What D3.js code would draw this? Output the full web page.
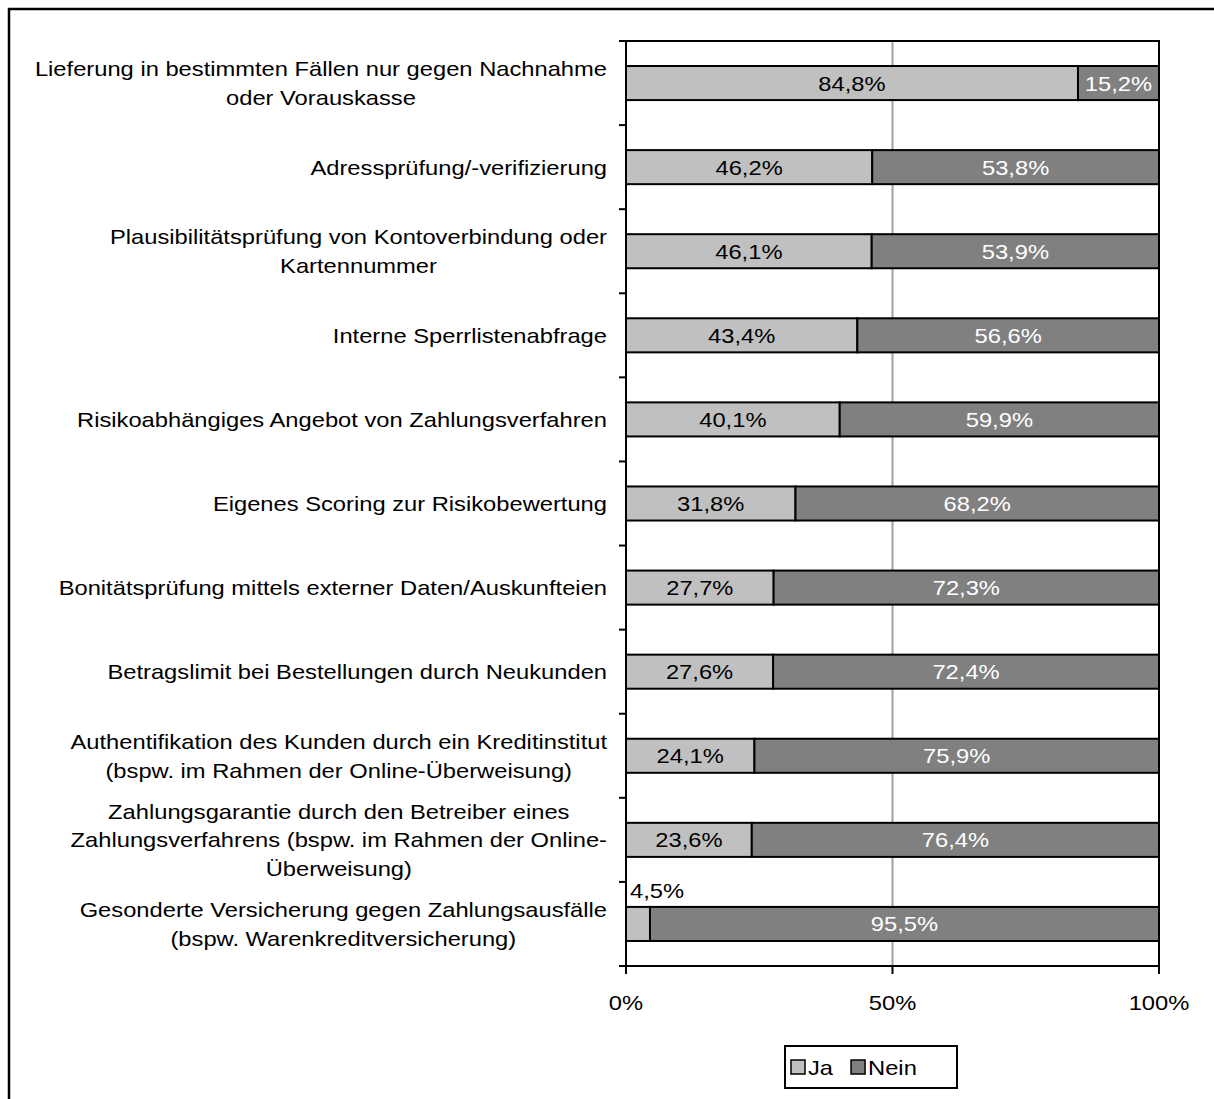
<!DOCTYPE html>
<html>
<head>
<meta charset="utf-8">
<script src="https://cdnjs.cloudflare.com/ajax/libs/d3/7.8.5/d3.min.js"></script>
<style>
    body { margin: 0; background: #fff; }
    text { font-family: "Liberation Sans", Arial, sans-serif; fill: #000; }
</style>
</head>
<body>
<svg id="chart" width="1214" height="1099"></svg>
<script>
// category labels, already broken into lines like the original
var categories = [
    ["Lieferung in bestimmten Fällen nur gegen Nachnahme", "oder Vorauskasse"],
    ["Adressprüfung/-verifizierung"],
    ["Plausibilitätsprüfung von Kontoverbindung oder", "Kartennummer"],
    ["Interne Sperrlistenabfrage"],
    ["Risikoabhängiges Angebot von Zahlungsverfahren"],
    ["Eigenes Scoring zur Risikobewertung"],
    ["Bonitätsprüfung mittels externer Daten/Auskunfteien"],
    ["Betragslimit bei Bestellungen durch Neukunden"],
    ["Authentifikation des Kunden durch ein Kreditinstitut", "(bspw. im Rahmen der Online-Überweisung)"],
    ["Zahlungsgarantie durch den Betreiber eines", "Zahlungsverfahrens (bspw. im Rahmen der Online-", "Überweisung)"],
    ["Gesonderte Versicherung gegen Zahlungsausfälle", "(bspw. Warenkreditversicherung)"]
];
var jaValues = [84.8, 46.2, 46.1, 43.4, 40.1, 31.8, 27.7, 27.6, 24.1, 23.6, 4.5];
var neinValues = [15.2, 53.8, 53.9, 56.6, 59.9, 68.2, 72.3, 72.4, 75.9, 76.4, 95.5];
var seriesNames = ["Ja", "Nein"];
var xTicks = [0, 50, 100];

var fontSize = 21;
var stretch = 1.13;   // the original text is a bit wide
var colors = { Ja: "#c0c0c0", Nein: "#808080" };
var labelColors = { Ja: "#000", Nein: "#fff" };

var plot = { left: 626, right: 1159, top: 41, bottom: 966 };

var svg = d3.select("#chart");

function fmt(v) {
    return v.toFixed(1).replace(".", ",") + "%";
}

// put a text that is stretched horizontally
function stretchedText(g, str, x, y, anchor, color) {
    return g.append("text")
        .attr("transform", "translate(" + x + "," + y + ") scale(" + stretch + ",1)")
        .attr("text-anchor", anchor)
        .style("font-size", fontSize + "px")
        .style("fill", color || "#000")
        .text(str);
}

// outer frame (only left and top are on the picture)
svg.append("rect")
    .attr("x", 9).attr("y", 9)
    .attr("width", 1400).attr("height", 1300)
    .attr("fill", "none")
    .attr("stroke", "#000")
    .attr("stroke-width", 2.5);

var x = d3.scaleLinear().domain([0, 100]).range([plot.left, plot.right]);

var idx = d3.range(categories.length);
var y = d3.scaleBand()
    .domain(idx)
    .range([plot.top, plot.bottom])
    .paddingInner(0.595)
    .paddingOuter(0.2975);

var step = y.step();

// 50% gridline
svg.append("line")
    .attr("x1", x(50)).attr("x2", x(50))
    .attr("y1", plot.top).attr("y2", plot.bottom)
    .attr("stroke", "#a0a0a0")
    .attr("stroke-width", 2);

// stacked data
var stacked = idx.map(function (i) {
    return [
        { key: "Ja", x0: 0, x1: jaValues[i], v: jaValues[i], i: i },
        { key: "Nein", x0: jaValues[i], x1: jaValues[i] + neinValues[i], v: neinValues[i], i: i }
    ];
});

var bars = svg.append("g");
stacked.forEach(function (row) {
    row.forEach(function (d) {
        bars.append("rect")
            .attr("x", x(d.x0))
            .attr("y", y(d.i))
            .attr("width", x(d.x1) - x(d.x0))
            .attr("height", y.bandwidth())
            .attr("fill", colors[d.key])
            .attr("stroke", "#000")
            .attr("stroke-width", 2);
    });
});

// plot frame
svg.append("rect")
    .attr("x", plot.left).attr("y", plot.top)
    .attr("width", plot.right - plot.left)
    .attr("height", plot.bottom - plot.top)
    .attr("fill", "none")
    .attr("stroke", "#000")
    .attr("stroke-width", 2);

// value labels
var vl = svg.append("g");
stacked.forEach(function (row) {
    row.forEach(function (d) {
        var w = x(d.x1) - x(d.x0);
        var cy = y(d.i) + y.bandwidth() / 2;
        if (w > 40) {
            stretchedText(vl, fmt(d.v), (x(d.x0) + x(d.x1)) / 2, cy + 7.5, "middle", labelColors[d.key]);
        } else {
            // too narrow, label sits above the bar
            stretchedText(vl, fmt(d.v), x(d.x0) + 4, y(d.i) - 9, "start", "#000");
        }
    });
});

// y axis ticks at band borders
var yTicks = d3.range(categories.length + 1).map(function (k) {
    return plot.top + k * step;
});
svg.append("g").selectAll("line")
    .data(yTicks)
    .enter().append("line")
    .attr("x1", plot.left - 7).attr("x2", plot.left)
    .attr("y1", function (d) { return d; })
    .attr("y2", function (d) { return d; })
    .attr("stroke", "#000")
    .attr("stroke-width", 2);

// x axis ticks and labels
var xa = svg.append("g");
xTicks.forEach(function (t) {
    xa.append("line")
        .attr("x1", x(t)).attr("x2", x(t))
        .attr("y1", plot.bottom).attr("y2", plot.bottom + 8)
        .attr("stroke", "#000")
        .attr("stroke-width", 2);
    stretchedText(xa, t + "%", x(t), 1010, "middle");
});

// category labels, block right aligned, lines centred
var cl = svg.append("g");
var lineH = 28.5;
var labelRight = 607;
categories.forEach(function (lines, i) {
    var cy = y(i) + y.bandwidth() / 2;
    var g = cl.append("g");
    var nodes = lines.map(function (s) {
        return stretchedText(g, s, 0, 0, "middle");
    });
    var maxW = d3.max(nodes, function (n) { return n.node().getComputedTextLength(); }) * stretch;
    var cx = labelRight - maxW / 2;
    var first = cy - (lines.length - 1) * lineH / 2 + 7.5;
    nodes.forEach(function (n, k) {
        n.attr("transform", "translate(" + cx + "," + (first + k * lineH) + ") scale(" + stretch + ",1)");
    });
});

// legend
var lg = svg.append("g");
var legBox = { x: 785, y: 1046, w: 172, h: 42 };
lg.append("rect")
    .attr("x", legBox.x).attr("y", legBox.y)
    .attr("width", legBox.w).attr("height", legBox.h)
    .attr("fill", "#fff")
    .attr("stroke", "#000")
    .attr("stroke-width", 2);
var lx = legBox.x + 6;
var lcy = legBox.y + legBox.h / 2;
seriesNames.forEach(function (s) {
    lg.append("rect")
        .attr("x", lx).attr("y", lcy - 7)
        .attr("width", 14).attr("height", 14)
        .attr("fill", colors[s])
        .attr("stroke", "#000")
        .attr("stroke-width", 1.5);
    var t = stretchedText(lg, s, lx + 17, lcy + 7.5, "start");
    lx += 17 + t.node().getComputedTextLength() * stretch + 18;
});
</script>
</body>
</html>
